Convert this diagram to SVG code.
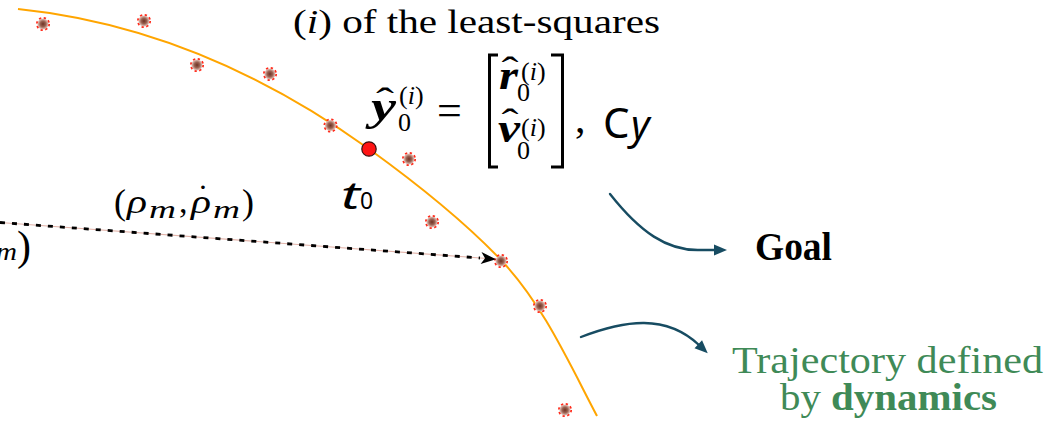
<svg xmlns="http://www.w3.org/2000/svg" width="1057" height="423" viewBox="0 0 1057 423">
<style>
.serif{font-family:"Liberation Serif","Times New Roman",serif;fill:#000}
.it{font-style:italic}
.bi{font-style:italic;font-weight:bold}
.sans{font-family:"Noto Sans","DejaVu Sans",sans-serif;fill:#000}
.green{font-family:"Liberation Serif",serif;fill:#3f8a57;font-size:38px}
.teal{fill:none;stroke:#174c62;stroke-width:2.4;stroke-linecap:round}
</style>
<defs>
<radialGradient id="mg" cx="0.5" cy="0.5" r="0.5">
<stop offset="0" stop-color="#6e3224"/>
<stop offset="0.5" stop-color="#9a6252"/>
<stop offset="1" stop-color="#ecd0c8"/>
</radialGradient>
<symbol id="meas" overflow="visible">
<circle cx="0" cy="0" r="5.6" fill="url(#mg)"/>
<circle cx="0" cy="0" r="6.2" fill="none" stroke="#ff2a1a" stroke-width="1.7" stroke-dasharray="2.3 2.57"/>
</symbol>
<marker id="stealth" markerUnits="userSpaceOnUse" markerWidth="20" markerHeight="16" viewBox="-16 -8 20 16" refX="0" refY="0" orient="auto" overflow="visible">
<path d="M2,0 L-13,-6 L-9,0 L-13,6 Z" fill="#000"/>
</marker>
<marker id="tri" markerUnits="userSpaceOnUse" markerWidth="20" markerHeight="16" viewBox="-4 -8 20 16" refX="0" refY="0" orient="auto" overflow="visible">
<path d="M-1,-5.5 L12,0 L-1,5.5 Z" fill="#174c62"/>
</marker>
</defs>

<g id="trajectory">
<path d="M18,9 C135,21 252,65 369,149 C413.6,181.2 463,220.2 501,260 C542.4,303.4 569,362.9 597,416" fill="none" stroke="#ffa500" stroke-width="2"/>
</g>

<g id="measurements">
<use href="#meas" x="43" y="24"/>
<use href="#meas" x="144" y="21"/>
<use href="#meas" x="197" y="65"/>
<use href="#meas" x="270" y="74"/>
<use href="#meas" x="330.5" y="125.5"/>
<use href="#meas" x="409" y="159"/>
<use href="#meas" x="432" y="222"/>
<use href="#meas" x="501" y="261"/>
<use href="#meas" x="540" y="306"/>
<use href="#meas" x="565" y="410"/>
</g>

<g id="t0-point">
<circle cx="369" cy="149" r="7.2" fill="#ff1414" stroke="#3a1010" stroke-width="1.2"/>
</g>

<g id="connectors">
<line x1="0" y1="222.5" x2="494" y2="259" stroke="#e2b4aa" stroke-width="1.2"/>
<path d="M0,222.5 L480,258" fill="none" stroke="#000" stroke-width="2.8" stroke-dasharray="5 7"/>
<path d="M480,258 L494,259" fill="none" stroke="none" marker-end="url(#stealth)"/>
<path class="teal" d="M610,194 C640,232 667,251 700,250 L715,250" marker-end="url(#tri)"/>
<path class="teal" d="M581,337 C625,320 666,314 699,345" marker-end="url(#tri)"/>
</g>

<g id="title-label">
<text class="serif" x="293" y="33" font-size="33" textLength="367" lengthAdjust="spacingAndGlyphs">(<tspan class="it">i</tspan>) of the least-squares</text>
</g>

<g id="equation">
<text class="serif bi" x="371" y="120" font-size="42" textLength="25" lengthAdjust="spacingAndGlyphs">y</text>
<text class="serif" x="385" y="113" font-size="36" text-anchor="middle" textLength="18" lengthAdjust="spacingAndGlyphs">ˆ</text>
<text class="serif" x="399" y="104" font-size="26">(<tspan class="it">i</tspan>)</text>
<text class="serif" x="398" y="131" font-size="26">0</text>
<text class="serif" x="437" y="125" font-size="44">=</text>
<path d="M498,55 H489.5 V167 H498" fill="none" stroke="#000" stroke-width="3"/>
<path d="M551,55 H562.5 V167 H551" fill="none" stroke="#000" stroke-width="3"/>
<text class="serif bi" x="499" y="89" font-size="42" textLength="19" lengthAdjust="spacingAndGlyphs">r</text>
<text class="serif" x="510" y="82" font-size="36" text-anchor="middle" textLength="17" lengthAdjust="spacingAndGlyphs">ˆ</text>
<text class="serif" x="521" y="80" font-size="26">(<tspan class="it">i</tspan>)</text>
<text class="serif" x="517" y="101" font-size="26">0</text>
<text class="serif bi" x="498" y="142" font-size="42" textLength="22" lengthAdjust="spacingAndGlyphs">v</text>
<text class="serif" x="510" y="134" font-size="36" text-anchor="middle" textLength="17" lengthAdjust="spacingAndGlyphs">ˆ</text>
<text class="serif" x="521" y="136" font-size="26">(<tspan class="it">i</tspan>)</text>
<text class="serif" x="517" y="159" font-size="26">0</text>
<text class="serif" x="575" y="132" font-size="42">,</text>
<text class="sans" x="603" y="138" font-size="42">C</text>
<text class="sans it" x="631" y="139" font-size="40">y</text>
</g>

<g id="t0-label">
<text class="sans it" x="341" y="209" font-size="38" textLength="19" lengthAdjust="spacingAndGlyphs">t</text>
<text class="sans" x="360" y="209" font-size="23">0</text>
</g>

<g id="range-label">
<text class="serif" x="114" y="214" font-size="36">(</text>
<text class="serif it" x="127" y="213" font-size="33" textLength="20" lengthAdjust="spacingAndGlyphs">ρ</text>
<text class="serif it" x="149" y="218" font-size="26" textLength="27" lengthAdjust="spacingAndGlyphs">m</text>
<text class="serif" x="179" y="213" font-size="34">,</text>
<text class="serif it" x="191" y="213" font-size="33" textLength="20" lengthAdjust="spacingAndGlyphs">ρ</text>
<text class="serif" x="203" y="208" font-size="34" text-anchor="middle">˙</text>
<text class="serif it" x="213" y="218" font-size="26" textLength="27" lengthAdjust="spacingAndGlyphs">m</text>
<text class="serif" x="242" y="214" font-size="36">)</text>
</g>

<g id="cut-label">
<text class="serif it" x="-4" y="260" font-size="26" textLength="21" lengthAdjust="spacingAndGlyphs">m</text>
<text class="serif" x="17" y="260" font-size="42">)</text>
</g>

<g id="goal">
<text class="serif" x="755" y="260" font-size="39" font-weight="bold" textLength="77" lengthAdjust="spacingAndGlyphs">Goal</text>
</g>

<g id="dynamics-note">
<text class="green" x="732" y="373" textLength="311" lengthAdjust="spacingAndGlyphs">Trajectory defined</text>
<text class="green" x="780" y="410" textLength="217" lengthAdjust="spacingAndGlyphs">by <tspan font-weight="bold">dynamics</tspan></text>
</g>
</svg>
